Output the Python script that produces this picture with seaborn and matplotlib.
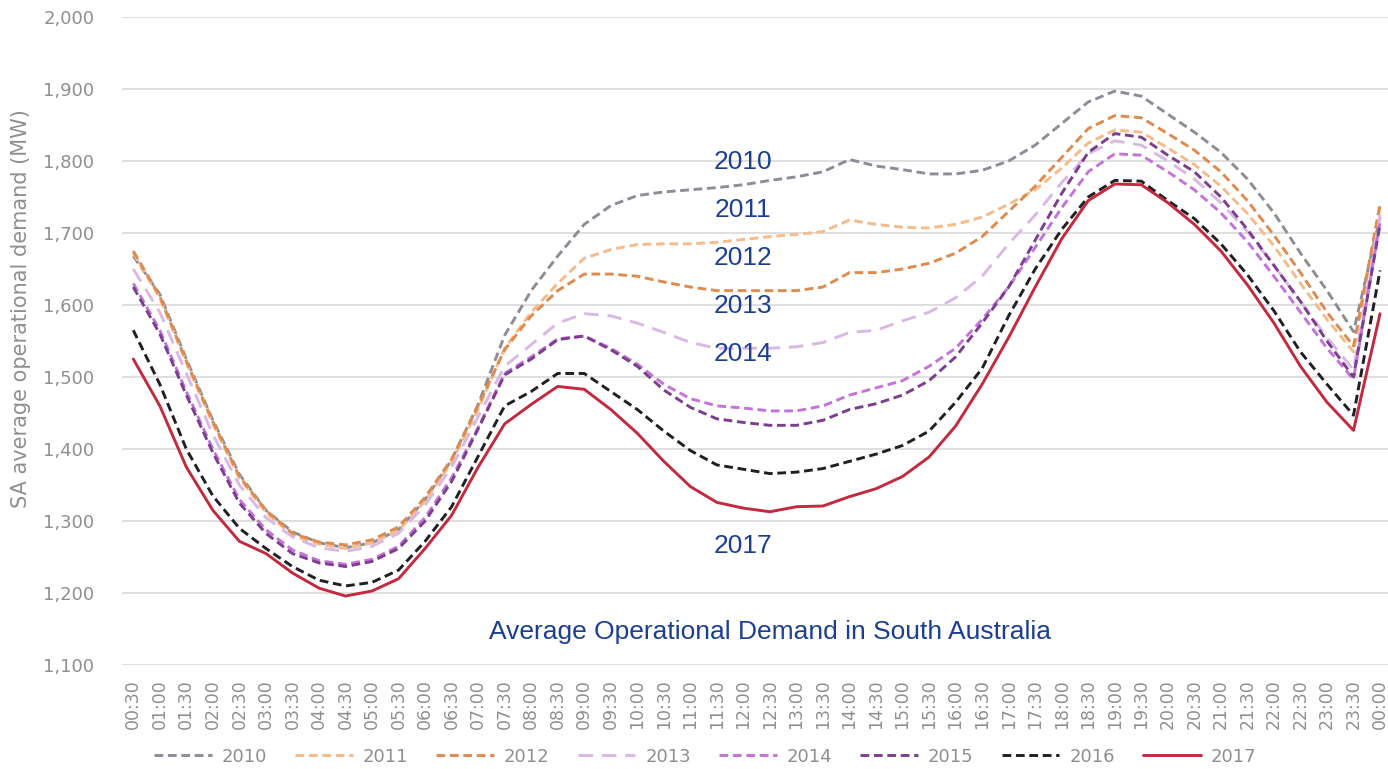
import numpy as np
import pandas as pd
import matplotlib
matplotlib.use("Agg")
import matplotlib.pyplot as plt
import seaborn as sns

# half-hour intervals, 00:30 .. 00:00
times = ["00:30", "01:00", "01:30", "02:00", "02:30", "03:00", "03:30", "04:00",
         "04:30", "05:00", "05:30", "06:00", "06:30", "07:00", "07:30", "08:00",
         "08:30", "09:00", "09:30", "10:00", "10:30", "11:00", "11:30", "12:00",
         "12:30", "13:00", "13:30", "14:00", "14:30", "15:00", "15:30", "16:00",
         "16:30", "17:00", "17:30", "18:00", "18:30", "19:00", "19:30", "20:00",
         "20:30", "21:00", "21:30", "22:00", "22:30", "23:00", "23:30", "00:00"]

d2010 = [1668, 1615, 1525, 1440, 1365, 1315, 1285, 1270, 1263, 1270, 1288, 1330,
         1385, 1462, 1558, 1620, 1668, 1712, 1738, 1752, 1757, 1760, 1763, 1767,
         1773, 1778, 1785, 1802, 1793, 1788, 1782, 1782, 1787, 1800, 1822, 1852,
         1882, 1897, 1890, 1865, 1840, 1812, 1775, 1728, 1672, 1620, 1563, 1722]
d2011 = [1672, 1610, 1520, 1435, 1360, 1312, 1280, 1268, 1262, 1270, 1287, 1328,
         1382, 1455, 1540, 1590, 1630, 1665, 1677, 1684, 1685, 1685, 1687, 1691,
         1695, 1698, 1702, 1718, 1712, 1708, 1707, 1712, 1722, 1740, 1760, 1790,
         1825, 1843, 1840, 1818, 1795, 1765, 1727, 1682, 1630, 1580, 1535, 1738]
d2012 = [1675, 1612, 1522, 1438, 1362, 1315, 1283, 1271, 1267, 1274, 1292, 1333,
         1386, 1460, 1538, 1585, 1620, 1643, 1643, 1640, 1632, 1625, 1620, 1620,
         1620, 1620, 1625, 1645, 1645, 1650, 1658, 1672, 1695, 1730, 1765, 1805,
         1845, 1863, 1860, 1838, 1815, 1785, 1745, 1697, 1645, 1590, 1543, 1740]
d2013 = [1650, 1590, 1505, 1420, 1350, 1305, 1278, 1263, 1258, 1265, 1283, 1322,
         1375, 1445, 1515, 1545, 1575, 1588, 1585, 1575, 1562, 1548, 1540, 1540,
         1540, 1542, 1548, 1562, 1565, 1578, 1590, 1610, 1640, 1685, 1725, 1770,
         1810, 1828, 1822, 1800, 1775, 1742, 1702, 1655, 1605, 1555, 1510, 1725]
d2014 = [1630, 1565, 1480, 1400, 1330, 1288, 1260, 1245, 1240, 1247, 1265, 1305,
         1360, 1430, 1505, 1528, 1553, 1557, 1540, 1518, 1490, 1470, 1460, 1457,
         1453, 1453, 1460, 1475, 1485, 1495, 1515, 1540, 1580, 1625, 1680, 1735,
         1785, 1810, 1808, 1785, 1760, 1728, 1688, 1640, 1590, 1540, 1497, 1715]
d2015 = [1625, 1560, 1475, 1395, 1325, 1283, 1255, 1242, 1237, 1244, 1262, 1300,
         1355, 1428, 1503, 1525, 1552, 1557, 1538, 1515, 1482, 1458, 1442, 1437,
         1433, 1433, 1440, 1455, 1463, 1475, 1495, 1528, 1575, 1625, 1690, 1755,
         1812, 1838, 1833, 1808, 1785, 1750, 1705, 1655, 1605, 1550, 1500, 1712]
d2016 = [1565, 1490, 1400, 1335, 1290, 1262, 1237, 1218, 1210, 1215, 1232, 1272,
         1320, 1390, 1460, 1480, 1505, 1505, 1480, 1455, 1425, 1398, 1378, 1372,
         1366, 1368, 1373, 1383, 1393, 1405, 1425, 1465, 1512, 1585, 1650, 1705,
         1750, 1773, 1772, 1745, 1720, 1685, 1642, 1592, 1535, 1490, 1447, 1648]
d2017 = [1525, 1460, 1375, 1315, 1272, 1255, 1228, 1207, 1196, 1203, 1220, 1262,
         1308, 1375, 1435, 1462, 1487, 1483, 1455, 1422, 1383, 1348, 1326, 1318,
         1313, 1320, 1321, 1334, 1345, 1362, 1389, 1432, 1490, 1555, 1625, 1692,
         1745, 1768, 1767, 1742, 1712, 1675, 1628, 1575, 1515, 1465, 1426, 1588]

years = ["2010", "2011", "2012", "2013", "2014", "2015", "2016", "2017"]
series = [d2010, d2011, d2012, d2013, d2014, d2015, d2016, d2017]

colors = {"2010": "#8b8e96", "2011": "#f4bb8c", "2012": "#df8a4e", "2013": "#dab8e4",
          "2014": "#c373d9", "2015": "#7b3f8e", "2016": "#1f1f24", "2017": "#c3293f"}
dashes = {"2010": (3, 1.6), "2011": (3, 1.6), "2012": (3, 1.6), "2013": (5, 3),
          "2014": (3, 1.6), "2015": (3, 1.6), "2016": (3, 1.6), "2017": ""}

df = pd.DataFrame({
    "idx": np.tile(np.arange(len(times)), len(years)),
    "mw": np.concatenate(series),
    "year": np.repeat(years, len(times)),
})

sns.set_style("white")
plt.rcParams["font.family"] = ["DejaVu Sans"]

fig = plt.figure(figsize=(13.88, 7.69), dpi=100)
ax = fig.add_axes([0.088, 0.135, 0.912, 0.843])

sns.lineplot(data=df, x="idx", y="mw", hue="year", style="year",
             palette=colors, dashes=dashes, linewidth=2.1, ax=ax, legend=False)

grey = "#8f8f8f"
ax.set_xlim(-0.42, 47.3)
ax.set_ylim(1100, 2000)
ax.set_yticks(np.arange(1100, 2001, 100))
ax.yaxis.set_major_formatter(matplotlib.ticker.FuncFormatter(lambda v, p: f"{int(v):,}"))
ax.set_xticks(np.arange(len(times)))
ax.set_xticklabels(times, rotation=90)
ax.tick_params(axis="x", length=0, pad=10, labelsize=12.5, labelcolor=grey)
ax.tick_params(axis="y", length=0, pad=20, labelsize=13, labelcolor=grey)
ax.grid(axis="y", color="#dcdcdc", linewidth=1.3)
ax.set_axisbelow(True)
for s in ax.spines.values():
    s.set_visible(False)
ax.set_xlabel("")
ax.set_ylabel("SA average operational demand (MW)", color=grey, fontsize=15)
ax.yaxis.set_label_coords(-0.072, 0.55)

# year labels and caption
blue = "#1c3f94"
label_y = {"2010": 1799, "2011": 1732, "2012": 1665, "2013": 1599, "2014": 1532, "2017": 1265}
for yr, yv in label_y.items():
    ax.text(23, yv, yr, color=blue, fontsize=19, ha="center", va="center",
            family="Liberation Sans")
ax.text(24, 1146, "Average Operational Demand in South Australia", color=blue,
        fontsize=19, ha="center", va="center", family="Liberation Sans")

handles = []
for yr in years:
    ls = (0, dashes[yr]) if dashes[yr] else "-"
    h, = ax.plot([], [], color=colors[yr], linestyle=ls, linewidth=2.1, label=yr)
    handles.append(h)
fig.legend(handles=handles, loc="center", ncol=8, frameon=False,
           bbox_to_anchor=(0.508, 0.016), fontsize=13, labelcolor=grey,
           handlelength=3.2, handletextpad=0.55, columnspacing=1.55)

fig.savefig("out.png", dpi=100)
